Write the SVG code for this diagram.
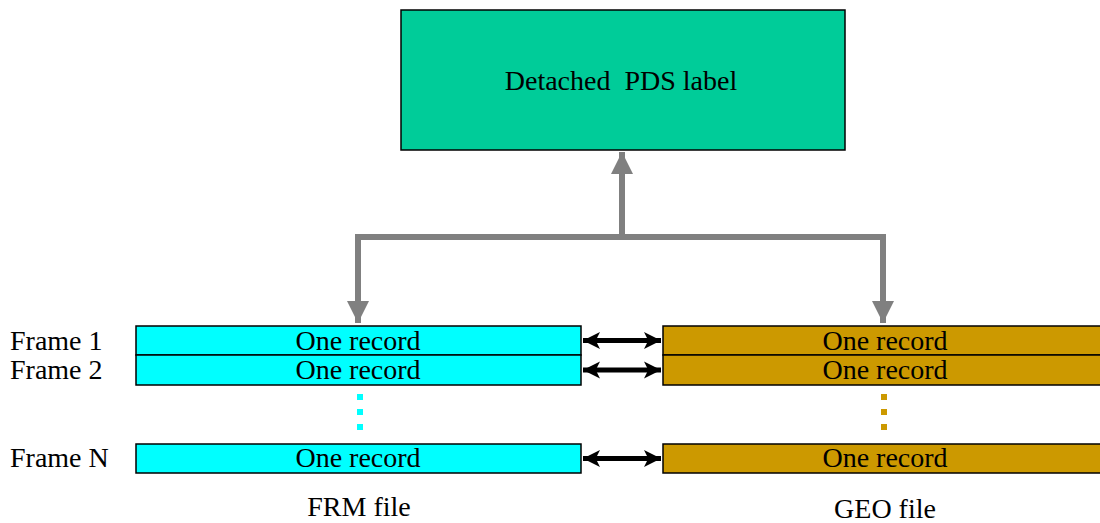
<svg xmlns="http://www.w3.org/2000/svg" width="1100" height="523" viewBox="0 0 1100 523" font-family="'Liberation Serif', 'DejaVu Serif', serif">
<style>
text{font-family:"Liberation Serif","DejaVu Serif",serif;font-size:28px;fill:#000}
.c{text-anchor:middle}
.frm{fill:#00FFFF;stroke:#000;stroke-width:1.5}
.geo{fill:#CC9900;stroke:#000;stroke-width:1.5}
.gray{fill:none;stroke:#808080;stroke-width:6}
.blk{stroke:#000;stroke-width:5}
</style>
<defs>
<marker id="ga" viewBox="0 0 10 10" refX="10" refY="5" markerWidth="3.7" markerHeight="3.7" orient="auto" markerUnits="strokeWidth"><path d="M0,0L10,5L0,10z" fill="#808080"/></marker>
<marker id="ba" viewBox="0 0 10 10" refX="10" refY="5" markerWidth="3.4" markerHeight="3.6" orient="auto-start-reverse" markerUnits="strokeWidth"><path d="M0,0L10,5L0,10L2.5,5z" fill="#000"/></marker>
</defs>
<g id="pds-label">
<rect x="401" y="10" width="444" height="140" fill="#00CC99" stroke="#000" stroke-width="1.5"/>
<text x="621" y="90" class="c" xml:space="preserve">Detached  PDS label</text>
</g>
<g id="frame-labels">
<text x="10" y="350">Frame  1</text>
<text x="10" y="379">Frame  2</text>
<text x="10" y="467">Frame  N</text>
</g>
<g id="frm-file">
<rect class="frm" x="136" y="326" width="445" height="29"/>
<text x="358" y="350" class="c">One record</text>
<rect class="frm" x="136" y="355" width="445" height="30"/>
<text x="358" y="379" class="c">One record</text>
<rect x="357" y="394" width="6" height="6" fill="#00FFFF"/>
<rect x="357" y="409" width="6" height="6" fill="#00FFFF"/>
<rect x="357" y="424" width="6" height="6" fill="#00FFFF"/>
<rect class="frm" x="136" y="444" width="445" height="29"/>
<text x="358" y="467" class="c">One record</text>
<text x="359" y="516" class="c">FRM file</text>
</g>
<g id="geo-file">
<rect class="geo" x="663" y="326" width="444" height="29"/>
<text x="885" y="350" class="c">One record</text>
<rect class="geo" x="663" y="355" width="444" height="30"/>
<text x="885" y="379" class="c">One record</text>
<rect x="881" y="394" width="6" height="6" fill="#CC9900"/>
<rect x="881" y="409" width="6" height="6" fill="#CC9900"/>
<rect x="881" y="424" width="6" height="6" fill="#CC9900"/>
<rect class="geo" x="663" y="444" width="444" height="29"/>
<text x="885" y="467" class="c">One record</text>
<text x="885" y="518" class="c">GEO file</text>
</g>
<g id="connectors">
<path class="gray" d="M622,237V152" marker-end="url(#ga)"/>
<path class="gray" d="M358,237H883"/>
<path class="gray" d="M358,234V323" marker-end="url(#ga)"/>
<path class="gray" d="M883,234V323" marker-end="url(#ga)"/>
<line class="blk" x1="583" y1="340.5" x2="661" y2="340.5" marker-start="url(#ba)" marker-end="url(#ba)"/>
<line class="blk" x1="583" y1="370" x2="661" y2="370" marker-start="url(#ba)" marker-end="url(#ba)"/>
<line class="blk" x1="583" y1="458.5" x2="661" y2="458.5" marker-start="url(#ba)" marker-end="url(#ba)"/>
</g>
</svg>
